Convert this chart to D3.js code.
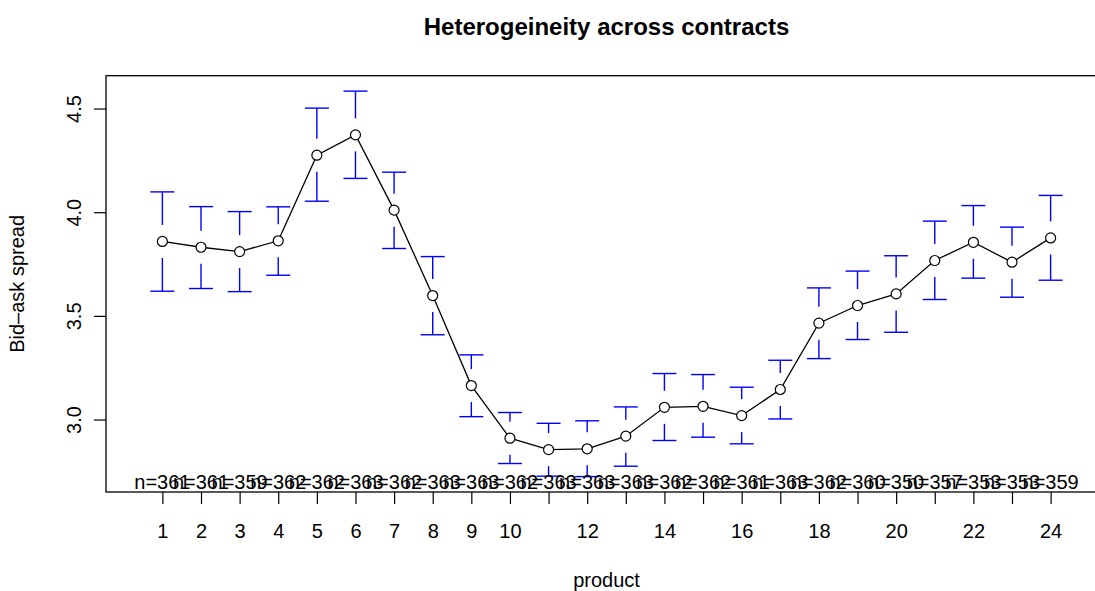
<!DOCTYPE html>
<html>
<head>
<meta charset="utf-8">
<script src="https://cdn.jsdelivr.net/npm/d3@7"></script>
<style>
  body { margin: 0; background: #fff; }
  svg { display: block; font-family: "Liberation Sans", Arial, sans-serif; }
</style>
</head>
<body>
<svg id="chart" width="1095" height="591"></svg>
<script>
// data
const products = d3.range(1, 25);
const means = [3.859, 3.831, 3.810, 3.862, 4.275, 4.373, 4.010, 3.598, 3.164, 2.910, 2.855, 2.859,
               2.920, 3.059, 3.064, 3.019, 3.145, 3.465, 3.550, 3.606, 3.767, 3.855, 3.759, 3.876];
const upper = [4.098, 4.027, 4.003, 4.026, 4.502, 4.584, 4.193, 3.786, 3.312, 3.034, 2.982, 2.994,
               3.061, 3.222, 3.217, 3.156, 3.286, 3.635, 3.716, 3.790, 3.957, 4.032, 3.928, 4.081];
const lower = [3.619, 3.632, 3.617, 3.696, 4.053, 4.163, 3.825, 3.409, 3.014, 2.788, 2.727, 2.725,
               2.775, 2.899, 2.915, 2.883, 3.003, 3.294, 3.386, 3.421, 3.579, 3.682, 3.590, 3.672];
const counts = [361, 361, 359, 362, 362, 363, 362, 363, 363, 362, 363, 363,
                363, 362, 362, 361, 363, 362, 360, 350, 357, 353, 353, 359];
const xTickLabels = [1, 2, 3, 4, 5, 6, 7, 8, 9, 10, 12, 14, 16, 18, 20, 22, 24];
const yTicks = [3.0, 3.5, 4.0, 4.5];

const svg = d3.select("#chart");
const plotLeft = 106, plotRight = 1107, plotTop = 75.7, plotBottom = 492;

// R style: pad the data range by 4% on each side
function padded(lo, hi) {
  const d = (hi - lo) * 0.04;
  return [lo - d, hi + d];
}
const x = d3.scaleLinear().domain(padded(0.5, products.length + 0.5)).range([plotLeft, plotRight]);
const y = d3.scaleLinear().domain(padded(d3.min(lower), d3.max(upper))).range([plotBottom, plotTop]);

// title + axis labels
svg.append("text")
    .attr("x", (plotLeft + plotRight) / 2)
    .attr("y", 35)
    .attr("text-anchor", "middle")
    .attr("font-size", 24)
    .attr("font-weight", "bold")
    .text("Heterogeineity across contracts");

svg.append("text")
    .attr("x", (plotLeft + plotRight) / 2)
    .attr("y", 587)
    .attr("text-anchor", "middle")
    .attr("font-size", 20)
    .text("product");

svg.append("text")
    .attr("transform", `translate(24,${(plotTop + plotBottom) / 2}) rotate(-90)`)
    .attr("text-anchor", "middle")
    .attr("font-size", 20)
    .text("Bid\u2013ask spread");

// x axis
const xAxis = svg.append("g")
    .attr("transform", `translate(0,${plotBottom})`)
    .call(d3.axisBottom(x)
        .tickValues(products)
        .tickSize(12)
        .tickSizeOuter(0)
        .tickFormat(d => xTickLabels.includes(d) ? d : ""));
xAxis.select(".domain").remove();
xAxis.selectAll(".tick line").attr("stroke", "#000").attr("stroke-width", 1.2);
xAxis.selectAll(".tick text")
    .attr("y", 45.5)
    .attr("dy", 0)
    .attr("font-size", 20)
    .attr("font-family", "Liberation Sans, Arial, sans-serif")
    .attr("fill", "#000");

// y axis
const yAxis = svg.append("g")
    .attr("transform", `translate(${plotLeft},0)`)
    .call(d3.axisLeft(y)
        .tickValues(yTicks)
        .tickSize(12)
        .tickSizeOuter(0)
        .tickFormat(d3.format(".1f")));
yAxis.select(".domain").remove();
yAxis.selectAll(".tick line").attr("stroke", "#000").attr("stroke-width", 1.2);
yAxis.selectAll(".tick text")
    .attr("x", 0)
    .attr("dy", 0)
    .attr("transform", "translate(-25,0) rotate(-90)")
    .attr("text-anchor", "middle")
    .attr("font-size", 20)
    .attr("font-family", "Liberation Sans, Arial, sans-serif")
    .attr("fill", "#000");

// plot box
svg.append("rect")
    .attr("x", plotLeft)
    .attr("y", plotTop)
    .attr("width", plotRight - plotLeft)
    .attr("height", plotBottom - plotTop)
    .attr("fill", "none")
    .attr("stroke", "#000")
    .attr("stroke-width", 1.3);

// error bars (gap around the mean like plotCI)
const gap = 16.5, cap = 12;
const bars = svg.append("g").attr("stroke", "#0000ff").attr("stroke-width", 1.4);
products.forEach((p, i) => {
  const cx = x(p), cy = y(means[i]), yu = y(upper[i]), yl = y(lower[i]);
  if (cy - gap > yu) {
    bars.append("line").attr("x1", cx).attr("x2", cx).attr("y1", yu).attr("y2", cy - gap);
  }
  if (cy + gap < yl) {
    bars.append("line").attr("x1", cx).attr("x2", cx).attr("y1", cy + gap).attr("y2", yl);
  }
  bars.append("line").attr("x1", cx - cap).attr("x2", cx + cap).attr("y1", yu).attr("y2", yu);
  bars.append("line").attr("x1", cx - cap).attr("x2", cx + cap).attr("y1", yl).attr("y2", yl);
});

// means line + circles
svg.append("path")
    .datum(products)
    .attr("fill", "none")
    .attr("stroke", "#000")
    .attr("stroke-width", 1.3)
    .attr("d", d3.line().x(d => x(d)).y((d, i) => y(means[i])));

svg.selectAll(".pt")
    .data(products)
    .join("circle")
    .attr("class", "pt")
    .attr("cx", d => x(d))
    .attr("cy", (d, i) => y(means[i]))
    .attr("r", 5)
    .attr("fill", "#fff")
    .attr("stroke", "#000")
    .attr("stroke-width", 1.2);

// n= labels along the bottom
svg.selectAll(".nlab")
    .data(products)
    .join("text")
    .attr("class", "nlab")
    .attr("x", d => x(d))
    .attr("y", 488.5)
    .attr("text-anchor", "middle")
    .attr("font-size", 20)
    .text((d, i) => "n=" + counts[i]);
</script>
</body>
</html>
